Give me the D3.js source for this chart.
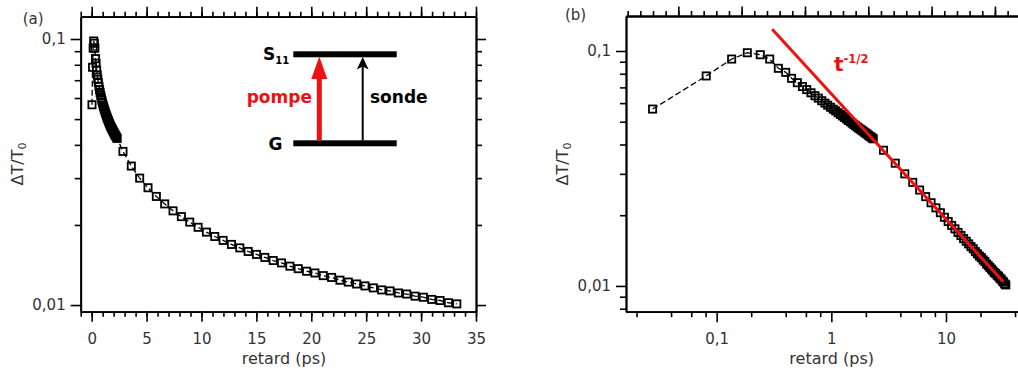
<!DOCTYPE html>
<html><head><meta charset="utf-8">
<script src="https://cdn.jsdelivr.net/npm/d3@7"></script>
<style>
body{margin:0;background:#fff}
svg{display:block}
text{font-family:"DejaVu Sans",sans-serif}
</style>
</head><body><svg id="c" width="1018" height="376"></svg>
<script>
// ---- data (delay in ps, ΔT/T0) ----
const delays = [0.0276,0.081,0.135,0.185,0.24,0.29,0.345,0.4,0.45,0.505,0.56,0.61,0.665,0.72,0.77,0.825,0.88,0.93,0.985,1.04,1.09,1.145,1.2,1.25,1.305,1.36,1.41,1.465,1.52,1.57,1.625,1.68,1.73,1.785,1.84,1.89,1.945,2.0,2.05,2.105,2.16,2.21,2.265,2.32,
  2.85,3.61,4.37,5.13,5.89,6.65,7.41,8.17,8.93,9.69,10.45,11.21,11.97,12.73,13.49,14.25,15.01,15.77,16.53,17.29,18.05,18.81,19.57,20.33,21.09,21.85,22.61,23.37,24.13,24.89,25.65,26.41,27.17,27.93,28.69,29.45,30.21,30.97,31.73,32.49,33.25];
const signal = [0.0566,0.0783,0.0924,0.0983,0.0964,0.0924,0.0844,0.0811,0.0765,0.0733,0.0706,0.0685,0.0664,0.0645,0.0630,0.0614,0.0600,0.0588,0.0576,0.0565,0.0556,0.0546,0.0537,0.0529,0.0521,0.0513,0.0506,0.0500,0.0493,0.0487,0.0481,0.0475,0.0470,0.0465,0.0460,0.0456,0.0451,0.0447,0.0443,0.0438,0.0434,0.0431,0.0427,0.0423,
  0.0378,0.0333,0.0300,0.0276,0.0256,0.0240,0.0226,0.0215,0.0205,0.0196,0.0188,0.0181,0.0175,0.0169,0.0164,0.0159,0.0155,0.0151,0.0147,0.0144,0.0140,0.0137,0.0134,0.0132,0.0129,0.0127,0.0124,0.0122,0.0120,0.0118,0.0116,0.0114,0.0113,0.0111,0.0110,0.0108,0.0107,0.0105,0.0104,0.0102,0.0101];
// power-law guide t^-1/2
const fitDelays = [0.305, 31.6];
const fitValues = [0.1237, 0.01043];

// ---- tick definitions ----
const leftXMajor = [0,5,10,15,20,25,30,35];
const leftXMinor = d3.range(-1,36,1);
const yMajor = [0.01, 0.1];
const yMajorLabels = ["0,01","0,1"];
const leftYMinor = [0.02,0.03,0.04,0.05,0.06,0.07,0.08,0.09];
const rightXMajor = [0.1, 1, 10];
const rightXMajorLabels = ["0,1","1","10"];
const rightXMinor = [0.02,0.04,0.06,0.08,0.2,0.4,0.6,0.8,2,4,6,8,20,40];
const rightYMinor = [0.008,0.009,0.02,0.03,0.04,0.05,0.06,0.07,0.08,0.09];
const rightTopMajor = [0,1,2,3,4,5];
const rightTopMinor = d3.range(-0.8,5.7,0.2);

const data = delays.map((t,i)=>({t, v: signal[i]}));
const svg = d3.select("#c");
const TXT = "#333";
const SQ = 7.2;

function styleAxis(g){
  g.selectAll(".domain").attr("stroke","#000").attr("stroke-width",1.8);
  g.selectAll(".tick line").attr("stroke","#000").attr("stroke-width",1.6);
  g.selectAll("text").attr("fill",TXT).style("font-size","15px").style("font-family","DejaVu Sans");
}
function drawAxis(axis, tx, ty){
  const g = svg.append("g").attr("transform",`translate(${tx},${ty})`).call(axis);
  styleAxis(g); return g;
}

// ================= panel (a) =================
const xL = d3.scaleLinear().domain([-1,35]).range([80.7,476]);
const yL = d3.scaleLog().domain([0.00944,0.1213]).range([311.7,16.7]);

drawAxis(d3.axisBottom(xL).tickValues(leftXMinor).tickSize(5).tickSizeOuter(0).tickFormat(""),0,311.7);
drawAxis(d3.axisTop(xL).tickValues(leftXMinor).tickSize(5).tickSizeOuter(0).tickFormat(""),0,16.7);
drawAxis(d3.axisLeft(yL).tickValues(leftYMinor).tickSize(6).tickSizeOuter(0).tickFormat(""),80.7,0);
drawAxis(d3.axisRight(yL).tickValues(leftYMinor).tickSize(6).tickSizeOuter(0).tickFormat(""),476,0);
const gLB = drawAxis(d3.axisBottom(xL).tickValues(leftXMajor).tickSize(10).tickSizeOuter(0).tickFormat(d=>d),0,311.7);
gLB.selectAll("text").attr("dy",null).attr("y",32.3);
drawAxis(d3.axisTop(xL).tickValues(leftXMajor).tickSize(10).tickSizeOuter(0).tickFormat(""),0,16.7);
drawAxis(d3.axisLeft(yL).tickValues(yMajor).tickSize(10).tickSizeOuter(0).tickPadding(5).tickFormat((d,i)=>yMajorLabels[i]),80.7,0);
drawAxis(d3.axisRight(yL).tickValues(yMajor).tickSize(10).tickSizeOuter(0).tickFormat(""),476,0);

const lineL = d3.line().x(d=>xL(d.t)).y(d=>yL(d.v));
svg.append("path").datum(data).attr("d",lineL).attr("fill","none")
  .attr("stroke","#000").attr("stroke-width",1.3).attr("stroke-dasharray","6,3");
svg.append("g").selectAll("rect").data(data).join("rect")
  .attr("x",d=>xL(d.t)-SQ/2).attr("y",d=>yL(d.v)-SQ/2).attr("width",SQ).attr("height",SQ)
  .attr("fill","none").attr("stroke","#000").attr("stroke-width",1.8);

svg.append("text").attr("x",22.7).attr("y",23.5).attr("fill",TXT).style("font-size","15px").text("(a)");
svg.append("text").attr("x",284).attr("y",364).attr("text-anchor","middle").attr("fill",TXT).style("font-size","16px").text("retard (ps)");
const yt1 = svg.append("text").attr("transform","translate(23,164) rotate(-90)").attr("text-anchor","middle").attr("fill",TXT).style("font-size","16px");
yt1.append("tspan").text("ΔT/T");
yt1.append("tspan").attr("dy",3).style("font-size","11px").text("0");

// energy level inset
const RED = "#ee1111";
svg.append("rect").attr("x",293.3).attr("y",51.3).attr("width",103.4).attr("height",6).attr("fill","#000");
svg.append("rect").attr("x",293.3).attr("y",140.3).attr("width",103.4).attr("height",6).attr("fill","#000");
svg.append("line").attr("x1",319.3).attr("x2",319.3).attr("y1",140.5).attr("y2",76).attr("stroke",RED).attr("stroke-width",5);
svg.append("path").attr("d","M319.3,56.5 L311.3,79 L327.3,79 Z").attr("fill",RED);
svg.append("line").attr("x1",362.7).attr("x2",362.7).attr("y1",140.5).attr("y2",66).attr("stroke","#000").attr("stroke-width",2);
svg.append("path").attr("d","M362.7,57 L356.8,69.5 L362.7,66.5 L368.6,69.5 Z").attr("fill","#000");
const s11 = svg.append("text").attr("x",263).attr("y",60).attr("font-weight","bold").style("font-size","17px").attr("fill","#000");
s11.append("tspan").text("S");
s11.append("tspan").attr("dy",4).style("font-size","10px").text("11");
svg.append("text").attr("x",268.5).attr("y",149.5).attr("font-weight","bold").style("font-size","17px").attr("fill","#000").text("G");
svg.append("text").attr("x",246.7).attr("y",102.7).attr("font-weight","bold").style("font-size","17px").attr("fill",RED).text("pompe");
svg.append("text").attr("x",370).attr("y",102.5).attr("font-weight","bold").style("font-size","17px").attr("fill","#000").text("sonde");

// ================= panel (b) =================
const xR = d3.scaleLog().domain([0.01618,62.2]).range([626,1037]);
const yR = d3.scaleLog().domain([0.00777,0.1409]).range([311.7,16]);
const topR = d3.scaleLinear().domain([-0.8263,5.664]).range([626,1037]);

drawAxis(d3.axisBottom(xR).tickValues(rightXMinor).tickSize(5.5).tickSizeOuter(0).tickFormat(""),0,311.7);
const gRB = drawAxis(d3.axisBottom(xR).tickValues(rightXMajor).tickSize(10.5).tickSizeOuter(0).tickFormat((d,i)=>rightXMajorLabels[i]),0,311.7);
gRB.selectAll("text").attr("dy",null).attr("y",32.3);
drawAxis(d3.axisTop(topR).tickValues(rightTopMinor).tickSize(5).tickSizeOuter(0).tickFormat(""),0,16);
drawAxis(d3.axisTop(topR).tickValues(rightTopMajor).tickSize(9.5).tickSizeOuter(0).tickFormat(""),0,16);
drawAxis(d3.axisLeft(yR).tickValues(rightYMinor).tickSize(6).tickSizeOuter(0).tickFormat(""),626,0);
drawAxis(d3.axisLeft(yR).tickValues(yMajor).tickSize(10).tickSizeOuter(0).tickPadding(5).tickFormat((d,i)=>yMajorLabels[i]),626,0);

const lineR = d3.line().x(d=>xR(d.t)).y(d=>yR(d.v));
svg.append("path").datum(data).attr("d",lineR).attr("fill","none")
  .attr("stroke","#000").attr("stroke-width",1.3).attr("stroke-dasharray","6,3");
svg.append("g").selectAll("rect").data(data).join("rect")
  .attr("x",d=>xR(d.t)-SQ/2).attr("y",d=>yR(d.v)-SQ/2).attr("width",SQ).attr("height",SQ)
  .attr("fill","none").attr("stroke","#000").attr("stroke-width",1.8);
svg.append("path").datum(fitDelays.map((t,i)=>({t, v: fitValues[i]}))).attr("d",lineR)
  .attr("fill","none").attr("stroke",RED).attr("stroke-width",3);

const tl = svg.append("text").attr("x",834).attr("y",70.7).attr("font-weight","bold").style("font-size","20px").attr("fill",RED);
tl.append("tspan").text("t");
tl.append("tspan").attr("dy",-7.4).style("font-size","11.5px").text("-1/2");

svg.append("text").attr("x",565).attr("y",19.5).attr("fill",TXT).style("font-size","15px").text("(b)");
svg.append("text").attr("x",831.7).attr("y",364).attr("text-anchor","middle").attr("fill",TXT).style("font-size","16px").text("retard (ps)");
const yt2 = svg.append("text").attr("transform","translate(568,164) rotate(-90)").attr("text-anchor","middle").attr("fill",TXT).style("font-size","16px");
yt2.append("tspan").text("ΔT/T");
yt2.append("tspan").attr("dy",3).style("font-size","11px").text("0");
</script>
</body></html>
